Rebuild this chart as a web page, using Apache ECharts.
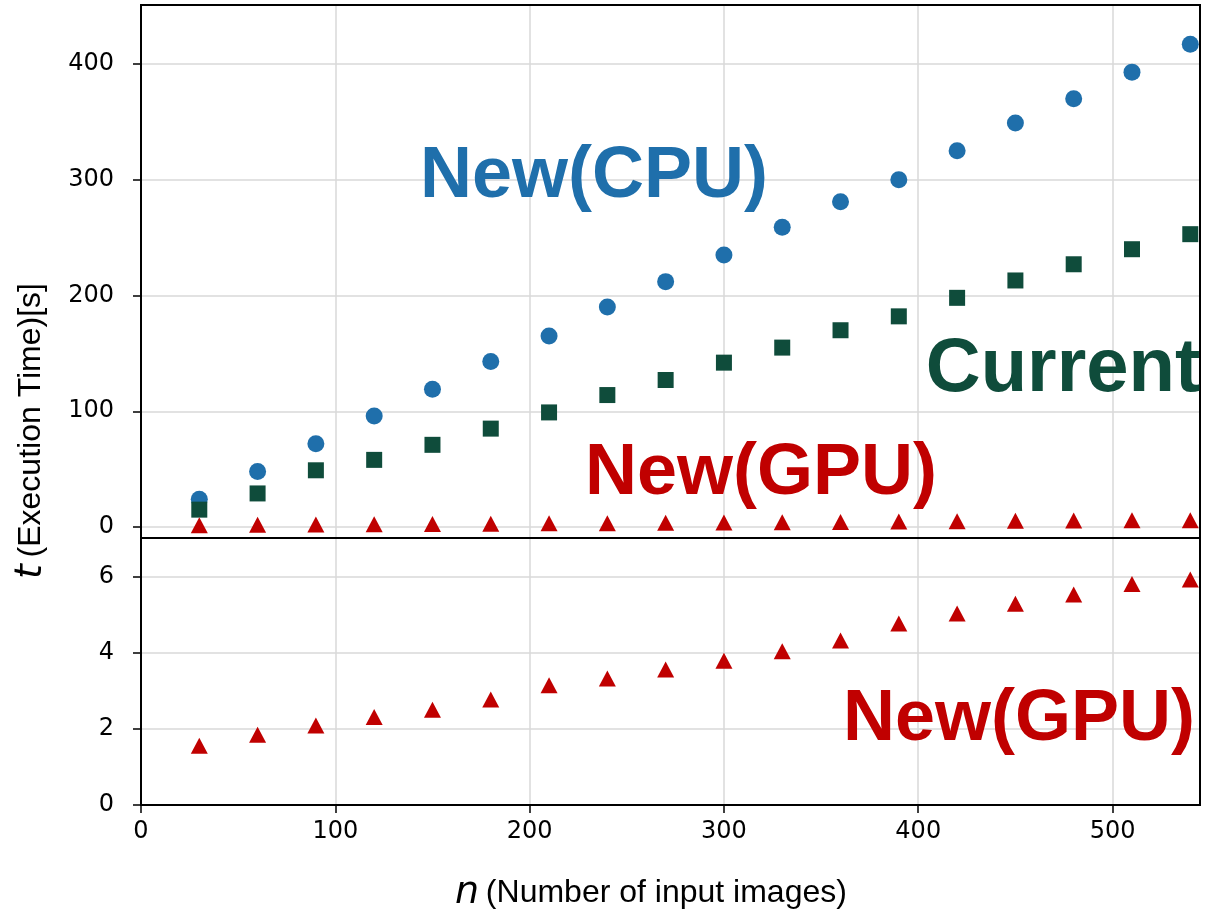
<!DOCTYPE html>
<html>
<head>
<meta charset="utf-8">
<script src="https://cdn.jsdelivr.net/npm/echarts@6/dist/echarts.min.js"></script>
<style>
  html, body { margin: 0; padding: 0; background: #fff; }
  #chart { width: 1214px; height: 914px; }
</style>
</head>
<body>
<div id="chart"></div>
<script>
// number of input images (x)
const nValues = [30, 60, 90, 120, 150, 180, 210, 240, 270, 300, 330, 360, 390, 420, 450, 480, 510, 540];
// execution time [s]
const cpuTimes = [24, 48, 72, 96, 119, 143, 165, 190, 212, 235, 259, 281, 300, 325, 349, 370, 393, 417];
const currentTimes = [15, 29, 49, 58, 71, 85, 99, 114, 127, 142, 155, 170, 182, 198, 213, 227, 240, 253];
const gpuTimes = [1.56, 1.85, 2.09, 2.32, 2.51, 2.78, 3.15, 3.33, 3.57, 3.80, 4.05, 4.33, 4.78, 5.04, 5.30, 5.54, 5.82, 5.94];

const xTicks = [0, 100, 200, 300, 400, 500];
const topTicks = [0, 100, 200, 300, 400];
const bottomTicks = [0, 2, 4, 6];

const BLUE = '#1f6fab';
const GREEN = '#0f4c3b';
const RED = '#c00000';
const GRIDLINE = '#d9d9d9';
const tickFont = 'DejaVu Sans';
const labelFont = '"Liberation Sans", Arial, sans-serif';

const pairs = (ys) => nValues.map((n, i) => [n, ys[i]]);

const chart = echarts.init(document.getElementById('chart'));

const tickStyle = { show: true, length: 8, lineStyle: { color: '#000', width: 1.5 } };
const labelStyle = { color: '#000', fontSize: 24, fontFamily: tickFont };
const splitStyle = { show: true, lineStyle: { color: GRIDLINE, width: 1.5 } };

const option = {
    animation: false,
    backgroundColor: '#fff',
    grid: [
        { left: 141, top: 5, width: 1059, height: 533, show: true, z: 10, borderColor: '#000', borderWidth: 2, outerBoundsMode: 'none' },
        { left: 141, top: 538, width: 1059, height: 267, show: true, z: 10, borderColor: '#000', borderWidth: 2, outerBoundsMode: 'none' }
    ],
    xAxis: [
        {
            type: 'value', gridIndex: 0, min: 0, max: 545, interval: 100,
            axisLine: { show: false }, splitLine: splitStyle,
            axisTick: { show: false }, axisLabel: { show: false }
        },
        {
            type: 'value', gridIndex: 1, min: 0, max: 545, interval: 100,
            axisLine: { show: false }, splitLine: splitStyle,
            axisTick: Object.assign({ customValues: xTicks }, tickStyle),
            axisLabel: Object.assign({ customValues: xTicks, margin: 15 }, labelStyle)
        }
    ],
    yAxis: [
        {
            type: 'value', gridIndex: 0, min: -9.5, max: 451, splitNumber: 5,
            axisLine: { show: false }, splitLine: splitStyle,
            axisTick: Object.assign({ customValues: topTicks }, tickStyle),
            axisLabel: Object.assign({ customValues: topTicks, margin: 27 }, labelStyle)
        },
        {
            type: 'value', gridIndex: 1, min: 0, max: 7.03, interval: 2,
            axisLine: { show: false }, splitLine: splitStyle,
            axisTick: Object.assign({ customValues: bottomTicks }, tickStyle),
            axisLabel: Object.assign({ customValues: bottomTicks, margin: 27 }, labelStyle)
        }
    ],
    series: [
        {
            name: 'New(CPU)', type: 'scatter', xAxisIndex: 0, yAxisIndex: 0,
            symbol: 'circle', symbolSize: 17, itemStyle: { color: BLUE, opacity: 1 },
            data: pairs(cpuTimes), z: 2
        },
        {
            name: 'Current', type: 'scatter', xAxisIndex: 0, yAxisIndex: 0,
            symbol: 'rect', symbolSize: 16, itemStyle: { color: GREEN, opacity: 1 },
            data: pairs(currentTimes), z: 3
        },
        {
            name: 'New(GPU)', type: 'scatter', xAxisIndex: 0, yAxisIndex: 0,
            symbol: 'triangle', symbolSize: [17, 16], itemStyle: { color: RED, opacity: 1 },
            data: pairs(gpuTimes), z: 4
        },
        {
            name: 'New(GPU) zoom', type: 'scatter', xAxisIndex: 1, yAxisIndex: 1,
            symbol: 'triangle', symbolSize: [17, 16], itemStyle: { color: RED, opacity: 1 },
            data: pairs(gpuTimes), z: 4
        }
    ],
    graphic: [
        {
            type: 'text', x: 594, y: 177, z: 20,
            style: { text: 'New(CPU)', fill: BLUE, font: 'bold 72px ' + labelFont, align: 'center', verticalAlign: 'middle' }
        },
        {
            type: 'text', x: 1063, y: 370, z: 20,
            style: { text: 'Current', fill: GREEN, font: 'bold 76px ' + labelFont, align: 'center', verticalAlign: 'middle' }
        },
        {
            type: 'text', x: 761, y: 474, z: 20,
            style: { text: 'New(GPU)', fill: RED, font: 'bold 72px ' + labelFont, align: 'center', verticalAlign: 'middle' }
        },
        {
            type: 'text', x: 1019, y: 720, z: 20,
            style: { text: 'New(GPU)', fill: RED, font: 'bold 72px ' + labelFont, align: 'center', verticalAlign: 'middle' }
        },
        {
            // y axis title, spans both panels
            type: 'text', x: 31, y: 431, rotation: Math.PI / 2, z: 20,
            style: {
                text: '{t|t}  {r|(Execution Time)[s]}',
                align: 'center', verticalAlign: 'middle',
                rich: {
                    t: { font: 'italic 38px "DejaVu Sans", sans-serif', fill: '#000' },
                    r: { font: '32px ' + labelFont, fill: '#000' }
                }
            }
        },
        {
            type: 'text', x: 651, y: 893, z: 20,
            style: {
                text: '{n|n}  {r|(Number of input images)}',
                align: 'center', verticalAlign: 'middle',
                rich: {
                    n: { font: 'italic 38px "DejaVu Sans", sans-serif', fill: '#000' },
                    r: { font: '32px ' + labelFont, fill: '#000' }
                }
            }
        }
    ]
};

chart.setOption(option);
</script>
</body>
</html>
